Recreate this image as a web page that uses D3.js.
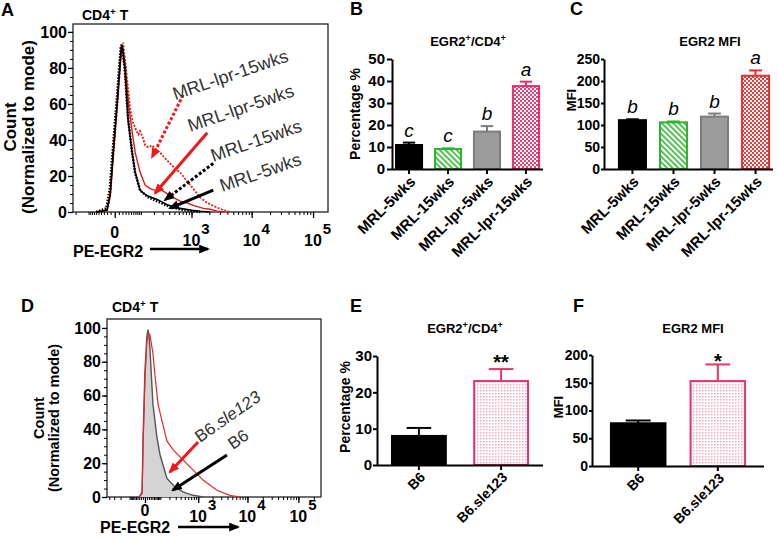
<!DOCTYPE html>
<html>
<head>
<meta charset="utf-8">
<script src="https://cdn.jsdelivr.net/npm/d3@7"></script>
<style>
  body { margin: 0; background: #fff; }
  svg { font-family: "Liberation Sans", Arial, sans-serif; }
</style>
</head>
<body>
<svg id="fig" width="778" height="538"></svg>
<script>
// ---- histogram data: [fluorescence, % of mode] ----
const mrl5 = [[-60,0],[-20,1],[-11,10],[-3.6,33],[5.5,60],[16,90],[19,93],[28,79],[39,51],[55,33],[69,22],[95,12],[142,9],[233,7],[366,4],[633,2],[1000,1],[1411,0.4],[2077,0]];
const mrl15 = [[-60,0],[-22,2],[-12,13],[-4,36],[5,63],[15,91],[18,93],[27,80],[38,53],[54,34],[68,22],[95,12],[142,8.5],[233,6],[366,3.5],[633,1.5],[1000,0.6],[1411,0]];
const lpr5 = [[-60,0],[-20,1],[-11,9],[-3.6,31],[5.5,58],[16,88],[21,91],[30,80],[42,58],[58,42],[69,33],[95,22],[127,15],[165,13],[212,12],[268,12.5],[330,11],[417,9],[633,6],[842,5],[1100,3.5],[1600,2],[2077,1.5],[2700,0.5],[3500,0]];
const lpr15 = [[-60,0],[-20,1],[-11,9],[-3.6,30],[5.5,57],[16,88],[22,94],[28,85],[39,68],[47,57],[58,50],[75,45],[85,43],[95,45],[113,41],[127,37],[150,36],[185,37],[212,35],[268,33],[330,30],[417,27],[560,23],[633,22],[842,17],[1068,13],[1411,8],[1849,5],[2500,3],[3415,1],[4452,0]];
const b6Hist = [[-30,0],[-14,3],[-9,35],[0,75],[9,95],[14.5,99],[20,95],[25,88],[43,55],[72,35],[97,25],[169,11],[286,6],[454,3],[769,1],[1264,0]];
const sleHist = [[-30,0],[-14,2],[-9,30],[0,70],[9,92],[17,97],[25,96],[43,85],[57,72],[80,55],[115,45],[169,33],[253,28],[454,22],[769,16],[1264,10],[2461,4],[4502,1],[7120,0]];

const countTicks = [0, 20, 40, 60, 80, 100];
const fluorMajor = [0, 1e3, 1e4, 1e5];

// ---- bar data ----
const mrlCats = ["MRL-5wks", "MRL-15wks", "MRL-lpr-5wks", "MRL-lpr-15wks"];
const pctMrl = [10.9, 9.1, 17, 37.7];
const pctMrlErr = [12, 9.4, 19.5, 39.7];
const mfiMrl = [111, 106, 119, 212];
const mfiMrlErr = [113, 108, 126, 224];
const pctLetters = ["c", "c", "b", "a"];
const mfiLetters = ["b", "b", "b", "a"];

const b6Cats = ["B6", "B6.sle123"];
const pctB6 = [8, 23.1];
const pctB6Err = [10.2, 26.4];
const mfiB6 = [77, 153];
const mfiB6Err = [82, 183];

const svg = d3.select("#fig");
const defs = svg.append("defs");

// patterns
const hatch = defs.append("pattern").attr("id", "hatchG").attr("patternUnits", "userSpaceOnUse")
  .attr("width", 4).attr("height", 4).attr("patternTransform", "rotate(-45)");
hatch.append("rect").attr("width", 4).attr("height", 4).attr("fill", "#fff");
hatch.append("rect").attr("width", 1.6).attr("height", 4).attr("fill", "#2bb52b");

function checker(id, col) {
  const p = defs.append("pattern").attr("id", id).attr("patternUnits", "userSpaceOnUse")
    .attr("width", 4).attr("height", 4);
  p.append("rect").attr("width", 4).attr("height", 4).attr("fill", "#fff");
  p.append("rect").attr("width", 2).attr("height", 2).attr("fill", col);
  p.append("rect").attr("x", 2).attr("y", 2).attr("width", 2).attr("height", 2).attr("fill", col);
}
checker("checkB", "#ef3a72");
checker("checkC", "#ec3a36");

const dots = defs.append("pattern").attr("id", "dotsE").attr("patternUnits", "userSpaceOnUse")
  .attr("width", 3).attr("height", 3);
dots.append("rect").attr("width", 3).attr("height", 3).attr("fill", "#fff");
dots.append("rect").attr("width", 1.5).attr("height", 1.5).attr("fill", "#f4a9c0");

function marker(id, col) {
  defs.append("marker").attr("id", id).attr("markerUnits", "userSpaceOnUse")
    .attr("viewBox", "0 0 10 8").attr("refX", 8).attr("refY", 4)
    .attr("markerWidth", 11).attr("markerHeight", 9).attr("orient", "auto")
    .append("path").attr("d", "M0,0 L10,4 L0,8 Z").attr("fill", col);
}
marker("headRed", "#f01818");
marker("headBlack", "#000");

function label(txt, x, y, size, opts = {}) {
  const t = svg.append("text").attr("x", x).attr("y", y)
    .attr("font-size", size).attr("font-weight", opts.weight || "bold")
    .attr("text-anchor", opts.anchor || "start").attr("fill", "#000").text(txt);
  return t;
}

function supLabel(parts, x, y, size, anchor) {
  // parts: [[text, isSup]]
  const t = svg.append("text").attr("x", x).attr("y", y).attr("font-size", size)
    .attr("font-weight", "bold").attr("text-anchor", anchor || "start");
  parts.forEach(p => {
    const s = t.append("tspan").text(p[0]);
    if (p[1]) s.attr("font-size", size * 0.7).attr("baseline-shift", "super");
  });
  return t;
}

function rotLabel(lines, x, y, size) {
  lines.forEach((l, i) => {
    svg.append("text").attr("transform", `translate(${x + i * size * 1.05},${y}) rotate(-90)`)
      .attr("text-anchor", "middle").attr("font-size", size).attr("font-weight", "bold").text(l);
  });
}

// ---------- histogram panel ----------
function histPanel(o) {
  const g = svg.append("g");
  const x = d3.scaleSymlog().constant(o.c).domain(o.xDomain).range([o.left, o.right]);
  const y = d3.scaleLinear().domain([0, o.yMax]).range([o.bottom, o.top]);

  g.append("rect").attr("x", o.left).attr("y", o.top)
    .attr("width", o.right - o.left).attr("height", o.bottom - o.top)
    .attr("fill", "none").attr("stroke", "#222").attr("stroke-width", 1.3);

  const ya = g.append("g").attr("transform", `translate(${o.left},0)`)
    .call(d3.axisLeft(y).tickValues(countTicks).tickSize(5).tickPadding(1));
  ya.select(".domain").remove();
  ya.selectAll("text").attr("font-size", 16).attr("font-weight", "bold").attr("font-family", null);
  ya.selectAll("line").attr("stroke-width", 1.3);
  const ym = g.append("g").attr("transform", `translate(${o.left},0)`)
    .call(d3.axisLeft(y).tickValues(d3.range(0, 101, 5)).tickSize(3).tickFormat(""));
  ym.select(".domain").remove();

  const minor = [];
  for (let n = 1; n <= 5; n++) for (let k = 1; k <= 9; k++) {
    const v = k * 10 ** n;
    if (v <= o.xDomain[1]) minor.push(v);
    if (-v >= o.xDomain[0]) minor.push(-v);
  }
  const xm = g.append("g").attr("transform", `translate(0,${o.bottom})`)
    .call(d3.axisBottom(x).tickValues(minor).tickSize(3).tickFormat(""));
  xm.select(".domain").remove();
  const xa = g.append("g").attr("transform", `translate(0,${o.bottom})`)
    .call(d3.axisBottom(x).tickValues(fluorMajor).tickSize(6).tickFormat(""));
  xa.select(".domain").remove();
  xa.selectAll("line").attr("stroke-width", 1.3);

  fluorMajor.forEach(v => {
    if (v === 0) label("0", x(v), o.bottom + o.lab0, 16, { anchor: "middle" });
    else {
      const t = svg.append("text").attr("x", x(v) - 9).attr("y", o.bottom + o.lab10)
        .attr("font-size", 16).attr("font-weight", "bold");
      t.append("tspan").text("10");
      t.append("tspan").attr("dy", -12).attr("dx", 1).attr("font-size", 15).text(String(Math.log10(v)));
    }
  });

  const line = d3.line().x(d => x(d[0])).y(d => y(d[1]));
  o.series.forEach(s => {
    if (s.fill) {
      const area = d3.area().x(d => x(d[0])).y0(y(0)).y1(d => y(d[1]));
      g.append("path").datum(s.data).attr("d", area).attr("fill", s.fill);
    }
    g.append("path").datum(s.data).attr("d", line).attr("fill", "none")
      .attr("stroke", s.color).attr("stroke-width", s.width)
      .attr("stroke-dasharray", s.dash || null);
  });

  o.arrows.forEach(a => {
    g.append("line").attr("x1", x(a.from[0])).attr("y1", y(a.from[1]))
      .attr("x2", x(a.to[0])).attr("y2", y(a.to[1]))
      .attr("stroke", a.color).attr("stroke-width", a.width)
      .attr("stroke-dasharray", a.dash || null)
      .attr("marker-end", `url(#${a.color === "#000" ? "headBlack" : "headRed"})`);
  });
  o.notes.forEach(n => {
    const t = g.append("text")
      .attr("transform", `translate(${x(n.at[0])},${y(n.at[1])}) rotate(${o.angle})`)
      .attr("font-size", o.noteSize).attr("fill", "#333");
    n.parts.forEach(p => t.append("tspan").attr("font-style", p[1] ? "italic" : null).text(p[0]));
  });
  return { x, y };
}

// ---------- bar panel ----------
function barPanel(o) {
  const g = svg.append("g");
  const x = d3.scaleBand().domain(o.cats).range([o.left, o.right])
    .paddingInner(o.pi).paddingOuter(o.po);
  const y = d3.scaleLinear().domain([0, o.yMax]).range([o.bottom, o.top]);
  const bw = x.bandwidth();

  o.values.forEach((v, i) => {
    const c = o.cats[i];
    g.append("rect").attr("x", x(c) + 1).attr("y", y(v))
      .attr("width", bw - 2).attr("height", y(0) - y(v))
      .attr("fill", o.fills[i]).attr("stroke", o.strokes[i]).attr("stroke-width", 2);
    const cx = x(c) + bw / 2;
    g.append("line").attr("x1", cx).attr("x2", cx).attr("y1", y(v)).attr("y2", y(o.errs[i]))
      .attr("stroke", o.strokes[i]).attr("stroke-width", 2);
    g.append("line").attr("x1", cx - bw * 0.22).attr("x2", cx + bw * 0.22)
      .attr("y1", y(o.errs[i])).attr("y2", y(o.errs[i]))
      .attr("stroke", o.strokes[i]).attr("stroke-width", 2);
    if (o.marks) {
      g.append("text").attr("x", cx).attr("y", y(o.errs[i]) + o.markDy)
        .attr("text-anchor", "middle").attr("font-size", o.markSize)
        .attr("font-style", o.markItalic ? "italic" : null)
        .attr("font-weight", o.markItalic ? null : "bold").text(o.marks[i]);
    }
  });

  const ya = g.append("g").attr("transform", `translate(${o.left},0)`)
    .call(d3.axisLeft(y).tickValues(o.ticks).tickSize(o.tick).tickSizeOuter(0).tickPadding(o.pad));
  ya.selectAll("text").attr("font-size", o.tickSize).attr("font-weight", "bold").attr("font-family", null);
  ya.selectAll("line,path").attr("stroke-width", 2);

  const xa = g.append("g").attr("transform", `translate(0,${o.bottom})`)
    .call(d3.axisBottom(x).tickSize(5).tickSizeOuter(0));
  xa.select(".domain").attr("d", `M${o.left},0.5H${o.axisEnd || o.right}`);
  xa.selectAll("line,path").attr("stroke-width", 2);
  xa.selectAll("text").attr("font-size", o.catSize).attr("font-weight", "bold").attr("font-family", null)
    .attr("text-anchor", "end").attr("transform", "rotate(-45)")
    .attr("dx", "-0.3em").attr("dy", "0.45em");

  supLabel(o.title, o.titleX, o.titleY, 13, "middle");
  rotLabel([o.yLabel], o.yLabelX, o.yLabelY, o.yLabelSize);
  return { x, y };
}

// Panel A
label("A", 1, 16, 18);
supLabel([["CD4", 0], ["+", 1], [" T", 0]], 82, 20, 14);
rotLabel(["Count", "(Normalized to mode)"], 16, 127, 17);
label("PE-EGR2", 73, 257, 16);
svg.append("line").attr("x1", 150).attr("x2", 208).attr("y1", 249).attr("y2", 249)
  .attr("stroke", "#000").attr("stroke-width", 2.5).attr("marker-end", "url(#headBlack)");

histPanel({
  left: 73, right: 328, top: 24, bottom: 212, c: 60, xDomain: [-226, 175000], yMax: 104.4,
  lab0: 26, lab10: 34, angle: -19, noteSize: 18,
  series: [
    { data: lpr15, color: "#f01818", width: 1.8, dash: "2,1.5" },
    { data: lpr5, color: "#e01a1a", width: 1.4 },
    { data: mrl5, color: "#000", width: 1.6 },
    { data: mrl15, color: "#000", width: 2.6, dash: "1.5,1.5" }
  ],
  arrows: [
    { from: [715, 65], to: [183, 30.5], color: "#f01818", width: 3, dash: "3,2" },
    { from: [1849, 44], to: [212, 10.5], color: "#f01818", width: 3 },
    { from: [2330, 27], to: [336, 6.7], color: "#000", width: 3, dash: "3,2" },
    { from: [2330, 12.2], to: [417, 2.2], color: "#000", width: 3 }
  ],
  notes: [
    { at: [515, 62], parts: [["MRL-lpr-15wks", 0]] },
    { at: [949, 44.4], parts: [["MRL-lpr-5wks", 0]] },
    { at: [2330, 27.8], parts: [["MRL-15wks", 0]] },
    { at: [3282, 11.1], parts: [["MRL-5wks", 0]] }
  ]
});

// Panel D
label("D", 21, 312, 18);
supLabel([["CD4", 0], ["+", 1], [" T", 0]], 112, 312, 14);
rotLabel(["Count", "(Normalized to mode)"], 44, 418, 14.5);
label("PE-EGR2", 100, 533, 16);
svg.append("line").attr("x1", 178).attr("x2", 238).attr("y1", 527).attr("y2", 527)
  .attr("stroke", "#000").attr("stroke-width", 2.5).attr("marker-end", "url(#headBlack)");

histPanel({
  left: 107, right: 321, top: 319, bottom: 497, c: 100, xDomain: [-453, 277000], yMax: 105.3,
  lab0: 19, lab10: 25, angle: -35, noteSize: 17,
  series: [
    { data: b6Hist, color: "#555", width: 1.4, fill: "#d4d4d4" },
    { data: sleHist, color: "#e8262a", width: 1.2 }
  ],
  arrows: [
    { from: [989, 32.5], to: [208, 14.8], color: "#f01818", width: 3 },
    { from: [3920, 24.9], to: [253, 4.1], color: "#000", width: 3 }
  ],
  notes: [
    { at: [1091, 32], parts: [["B6.", 0], ["sle123", 1]] },
    { at: [5170, 27.8], parts: [["B6", 0]] }
  ]
});

// Panel B
label("B", 350, 15, 18);
barPanel({
  cats: mrlCats, values: pctMrl, errs: pctMrlErr, marks: pctLetters, markItalic: true,
  markSize: 19, markDy: -6,
  left: 392, right: 543, axisEnd: 543, top: 59, bottom: 169, yMax: 50, ticks: [0, 10, 20, 30, 40, 50],
  pi: 0.28, po: 0.077, tickSize: 15, catSize: 15, tick: 5, pad: 2,
  fills: ["#000", "url(#hatchG)", "#9b9b9b", "url(#checkB)"],
  strokes: ["#000", "#2bb52b", "#7c7c7c", "#ee2e6b"],
  title: [["EGR2", 0], ["+", 1], ["/CD4", 0], ["+", 1]], titleX: 468, titleY: 46,
  yLabel: "Percentage %", yLabelX: 360, yLabelY: 114, yLabelSize: 14
});

// Panel C
label("C", 570, 15, 18);
barPanel({
  cats: mrlCats, values: mfiMrl, errs: mfiMrlErr, marks: mfiLetters, markItalic: true,
  markSize: 19, markDy: -6,
  left: 604, right: 784, axisEnd: 773, top: 59, bottom: 169, yMax: 250, ticks: [0, 50, 100, 150, 200, 250],
  pi: 0.293, po: 0.34, tickSize: 14, catSize: 15, tick: 3, pad: 1,
  fills: ["#000", "url(#hatchG)", "#9b9b9b", "url(#checkC)"],
  strokes: ["#000", "#2bb52b", "#7c7c7c", "#ea2e2e"],
  title: [["EGR2 MFI", 0]], titleX: 710, titleY: 46,
  yLabel: "MFI", yLabelX: 576, yLabelY: 100, yLabelSize: 13
});

// Panel E
label("E", 350, 312, 18);
barPanel({
  cats: b6Cats, values: pctB6, errs: pctB6Err, marks: ["", "**"], markItalic: false,
  markSize: 20, markDy: 0,
  left: 377, right: 543, top: 356, bottom: 465, yMax: 30, ticks: [0, 10, 20, 30],
  pi: 0.32, po: 0.17, tickSize: 15, catSize: 14, tick: 4, pad: 1,
  fills: ["#000", "url(#dotsE)"],
  strokes: ["#000", "#e8336b"],
  title: [["EGR2", 0], ["+", 1], ["/CD4", 0], ["+", 1]], titleX: 465, titleY: 333,
  yLabel: "Percentage %", yLabelX: 350, yLabelY: 407, yLabelSize: 14
});

// Panel F
label("F", 573, 312, 18);
barPanel({
  cats: b6Cats, values: mfiB6, errs: mfiB6Err, marks: ["", "*"], markItalic: false,
  markSize: 20, markDy: 4,
  left: 592, right: 764, top: 355, bottom: 466, yMax: 200, ticks: [0, 50, 100, 150, 200],
  pi: 0.29, po: 0.225, tickSize: 14, catSize: 14, tick: 3, pad: 1,
  fills: ["#000", "url(#dotsE)"],
  strokes: ["#000", "#e8336b"],
  title: [["EGR2 MFI", 0]], titleX: 693, titleY: 333,
  yLabel: "MFI", yLabelX: 563, yLabelY: 407, yLabelSize: 13
});
</script>
</body>
</html>
